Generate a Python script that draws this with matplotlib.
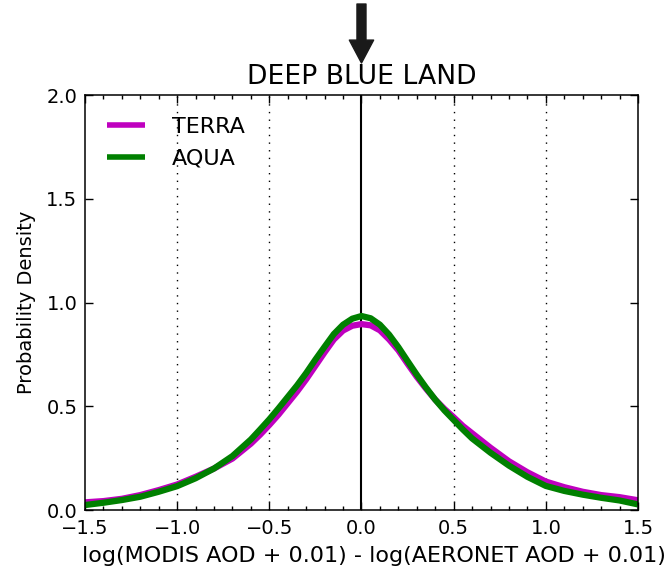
import matplotlib
matplotlib.use("Agg")
import matplotlib.pyplot as plt
from matplotlib.ticker import MultipleLocator

x_vals = [-1.5, -1.4, -1.3, -1.2, -1.1, -1.0, -0.9, -0.8, -0.7, -0.6, -0.55,
          -0.5, -0.45, -0.4, -0.35, -0.3, -0.25, -0.2, -0.15, -0.1, -0.05,
          0.0, 0.05, 0.1, 0.15, 0.2, 0.25, 0.3, 0.35, 0.4, 0.45, 0.5, 0.55,
          0.6, 0.7, 0.8, 0.9, 1.0, 1.1, 1.2, 1.3, 1.4, 1.5]
terra = [0.037, 0.043, 0.054, 0.072, 0.096, 0.123, 0.160, 0.200, 0.248, 0.320, 0.363,
         0.410, 0.460, 0.515, 0.570, 0.630, 0.695, 0.760, 0.822, 0.865, 0.888,
         0.896, 0.890, 0.866, 0.822, 0.770, 0.705, 0.642, 0.585, 0.532, 0.487, 0.447, 0.405,
         0.370, 0.300, 0.235, 0.182, 0.137, 0.110, 0.088, 0.072, 0.062, 0.047]
aqua = [0.024, 0.035, 0.048, 0.064, 0.088, 0.115, 0.153, 0.200, 0.260, 0.340, 0.388,
        0.437, 0.490, 0.545, 0.600, 0.660, 0.725, 0.787, 0.848, 0.893, 0.922,
        0.935, 0.924, 0.893, 0.845, 0.785, 0.718, 0.652, 0.590, 0.532, 0.480, 0.434, 0.388,
        0.345, 0.276, 0.214, 0.160, 0.116, 0.092, 0.074, 0.059, 0.046, 0.027]
series_labels = ["TERRA", "AQUA"]
series_colors = ["#bf00bf", "#008000"]
title = "DEEP BLUE LAND"
xlabel = "log(MODIS AOD + 0.01) - log(AERONET AOD + 0.01)"
ylabel = "Probability Density"
dotted_x = [-1.0, -0.5, 0.5, 1.0]

fig = plt.figure(figsize=(6.67, 5.71), dpi=100)
ax = fig.add_axes([0.1274, 0.1068, 0.8291, 0.7268])

for xv in dotted_x:
    ax.axvline(xv, color="black", linestyle=(0, (1, 4.5)), linewidth=1.0, zorder=1)
ax.axvline(0.0, color="black", linewidth=1.5, zorder=1)

for ys, lab, col in zip([terra, aqua], series_labels, series_colors):
    ax.plot(x_vals, ys, color=col, linewidth=4.5, label=lab, zorder=2,
            solid_joinstyle="round", solid_capstyle="butt")

ax.set_xlim(-1.5, 1.5)
ax.set_ylim(0, 2.0)
ax.xaxis.set_major_locator(MultipleLocator(0.5))
ax.xaxis.set_minor_locator(MultipleLocator(0.1))
ax.yaxis.set_major_locator(MultipleLocator(0.5))
ax.tick_params(which="both", direction="in", top=True, right=True, labelsize=14)
ax.tick_params(which="major", length=6, width=1)
ax.tick_params(which="minor", length=3, width=1)
ax.xaxis.set_tick_params(pad=6.5)
ax.yaxis.set_tick_params(pad=5.5)
for sp in ax.spines.values():
    sp.set_linewidth(1.1)

ax.set_title(title, fontsize=19.2, pad=8)
ax.set_xlabel(xlabel, fontsize=16, labelpad=5)
ax.xaxis.set_label_coords(0.523, -0.086)
ax.set_ylabel(ylabel, fontsize=14, labelpad=7)

leg = ax.legend(loc="upper left", frameon=False, fontsize=16, handlelength=1.7,
                borderaxespad=0.6, labelspacing=0.52, handletextpad=1.2)
for h in leg.get_lines():
    h.set_linewidth(4)

ax.annotate("", xy=(0.0, 1.0 + 32 / 415), xycoords=("data", "axes fraction"),
            xytext=(0.0, 1.0 + 91 / 415), textcoords=("data", "axes fraction"),
            arrowprops=dict(arrowstyle="simple,head_width=1.75,head_length=1.65,tail_width=0.65",
                            color="#1a1a1a", shrinkA=0, shrinkB=0, mutation_scale=10),
            annotation_clip=False)

fig.savefig("out.png", dpi=100)
